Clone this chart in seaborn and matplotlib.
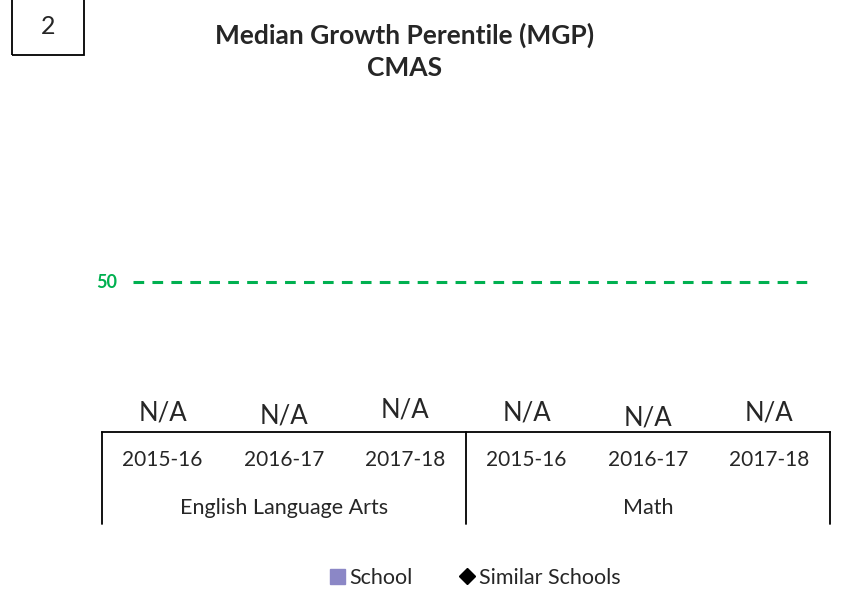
import numpy as np
import pandas as pd
import matplotlib.pyplot as plt
import seaborn as sns
from matplotlib.patches import Patch, Rectangle
from matplotlib.lines import Line2D

# chart values (all suppressed -> N/A)
subjects = ["English Language Arts"] * 3 + ["Math"] * 3
years = ["2015-16", "2016-17", "2017-18"] * 2
school_mgp = [np.nan] * 6
similar_mgp = [np.nan] * 6
value_labels = ["N/A"] * 6
target_mgp = 50

df = pd.DataFrame({"cat": [f"{s}|{y}" for s, y in zip(subjects, years)],
                   "School": school_mgp, "Similar": similar_mgp})

sns.set_style("white")
plt.rcParams['font.family'] = ['Lato', 'DejaVu Sans']

fig = plt.figure(figsize=(8.47, 5.96), dpi=100)
ax = fig.add_axes([102 / 847, 1 - 432 / 596, 728 / 847, 300 / 596])

sns.barplot(data=df, x="cat", y="School", color="#8B87C6", ax=ax, errorbar=None)
sns.scatterplot(x=np.arange(len(df)), y=df["Similar"], marker="D", color="black", ax=ax)

ax.set_xlim(-0.5, len(df) - 0.5)
ax.set_ylim(0, 100)
ax.set_yticks([])
ax.set_xlabel("")
ax.set_ylabel("")
for s in ["left", "right", "top"]:
    ax.spines[s].set_visible(False)
ax.spines["bottom"].set_color("black")
ax.spines["bottom"].set_linewidth(1.3)

# year tick labels
ax.set_xticks(np.arange(len(df)))
ax.set_xticklabels(years, fontsize=15)
ax.tick_params(axis="x", length=0, pad=13)

# subject group labels and separators
trans = ax.get_xaxis_transform()
groups = list(dict.fromkeys(subjects))
for g in groups:
    idx = [i for i, s in enumerate(subjects) if s == g]
    ax.text(np.mean(idx), -0.2533, g, transform=trans, ha="center", va="center", fontsize=15.5)
bounds = [-0.5] + [i + 0.5 for i in range(len(subjects) - 1) if subjects[i] != subjects[i + 1]] + [len(df) - 0.5]
for b in bounds:
    ax.plot([b, b], [0, -0.3067], transform=trans, color="black", lw=1.3, clip_on=False)

# N/A labels
label_y = [6.3, 5.2, 7.3, 6.5, 4.8, 6.5]
for i, lab in enumerate(value_labels):
    ax.text(i, label_y[i], lab, ha="center", va="center", fontsize=18.5)

# target line
ax.axhline(target_mgp, xmin=31 / 728, xmax=705 / 728, color="#00B050", lw=2.2,
           linestyle=(0, (3.5, 2.7)))
ax.text(0.006, target_mgp, str(target_mgp), transform=ax.get_yaxis_transform(),
        ha="center", va="center", color="#00B050", fontsize=13, fontweight="bold")

# title
fig.text(405 / 847, 1 - 35 / 596, "Median Growth Perentile (MGP)", ha="center", va="center",
         fontsize=19, fontweight="bold")
fig.text(405 / 847, 1 - 68 / 596, "CMAS", ha="center", va="center",
         fontsize=19, fontweight="bold")

# page number box
fig.patches.append(Rectangle((12 / 847, 1 - 55 / 596), 72 / 847, 70 / 596,
                             transform=fig.transFigure, fill=False, edgecolor="black", lw=1.3))
fig.text(48 / 847, 1 - 27 / 596, "2", ha="center", va="center", fontsize=18)

# legend
handles = [Patch(color="#8B87C6", label="School"),
           Line2D([], [], marker="D", color="black", lw=0, markersize=8, label="Similar Schools")]
leg = ax.get_legend()
if leg is not None:
    leg.remove()
fig.legend(handles=handles, loc="center", bbox_to_anchor=(475 / 847, 18 / 596), ncol=2,
           frameon=False, fontsize=15.5, handlelength=0.7, handleheight=0.7,
           handletextpad=0.2, columnspacing=2.2)

fig.savefig("out.png", dpi=100)
